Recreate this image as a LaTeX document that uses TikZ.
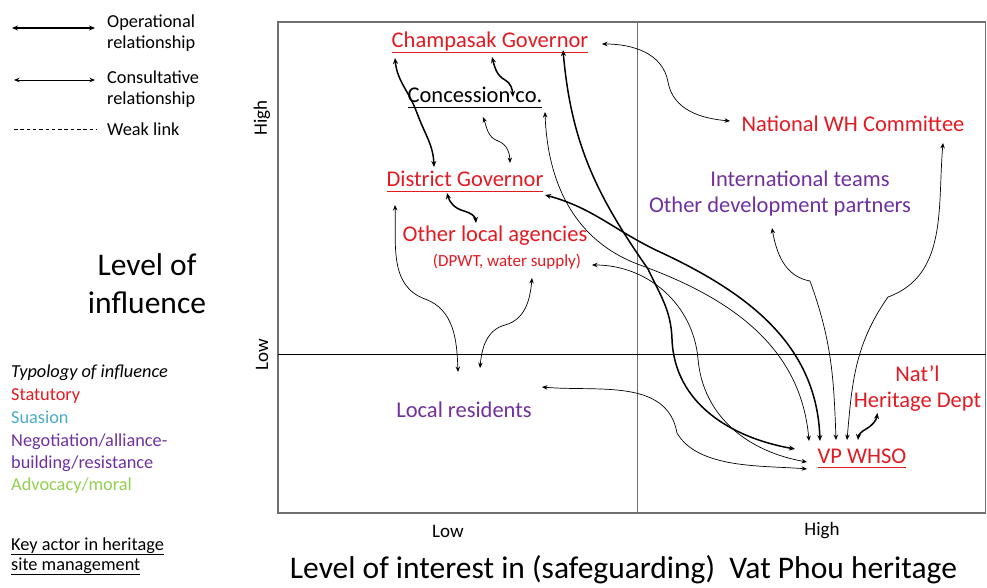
\documentclass[tikz,border=0pt]{standalone}
\usepackage{fontspec}
\setmainfont{Carlito}
\usetikzlibrary{arrows.meta, calc}
\definecolor{statred}{RGB}{226,26,34}
\definecolor{suasionblue}{RGB}{75,172,198}
\definecolor{negpurple}{RGB}{112,48,160}
\definecolor{advgreen}{RGB}{146,208,80}
\definecolor{framegray}{RGB}{110,110,110}
\newsavebox{\keylinebox}
\newcommand{\keyline}[1]{\sbox{\keylinebox}{#1}\rlap{\rule[-5.2pt]{\wd\keylinebox}{1.3pt}}\usebox{\keylinebox}}

\begin{document}
\begin{tikzpicture}[
        x=1pt, y=1pt,
        operational/.style={{Stealth[length=6pt, width=5pt]}-{Stealth[length=6pt, width=5pt]}, line width=1.5pt},
        consultative/.style={{Stealth[length=5.5pt, width=4.5pt]}-{Stealth[length=5.5pt, width=4.5pt]}, line width=0.7pt},
        weaklink/.style={line width=0.6pt, dash pattern=on 3.5pt off 2.8pt},
        actor/.style={inner sep=0pt, anchor=base, font=\fontsize{22.5}{26}\selectfont},
        statactor/.style={actor, text=statred},
        negactor/.style={actor, text=negpurple},
        legendtext/.style={inner sep=0pt, font=\fontsize{18.3}{20.5}\selectfont},
        axislabel/.style={inner sep=0pt, font=\fontsize{19}{22}\selectfont}
    ]
        \useasboundingbox (0,0) rectangle (987,587);
        % Frame
        \draw[framegray, line width=1.2pt] (278,74) rectangle (985.5,565);
        \draw[framegray, line width=0.8pt] (637,74) -- (637,565);
        \draw[line width=0.8pt] (278,233) -- (985.5,233);
        % Axis labels
        \node[axislabel, rotate=90] (yhigh) at (262,469) {High};
        \node[axislabel, rotate=90] (ylow) at (262,232.5) {Low};
        \node[axislabel] (xlow) at (448,56) {Low};
        \node[axislabel] (xhigh) at (822,56) {High};
        \node[inner sep=0pt, anchor=base, font=\fontsize{31.5}{36}\selectfont] (xtitle) at (623.5,9) {Level of interest in (safeguarding)\ \ Vat Phou heritage};
        \node[inner sep=0pt, align=center, font=\fontsize{31.5}{38}\selectfont] (ytitle) at (147,303) {Level of\\influence};
        % Legend
        \node[legendtext, align=left, anchor=west] (legop) at (107,554) {Operational\\relationship};
        \node[legendtext, align=left, anchor=west] (legcon) at (107,498) {Consultative\\relationship};
        \node[legendtext, anchor=west] (legweak) at (107,458) {Weak link};
        \draw[operational] ([xshift=-95pt, yshift=5pt]legop.west) -- ([xshift=-12pt, yshift=5pt]legop.west);
        \draw[consultative] ([xshift=-93pt, yshift=9pt]legcon.west) -- ([xshift=-12pt, yshift=9pt]legcon.west);
        \draw[weaklink] ([xshift=-93pt]legweak.west) -- ([xshift=-10pt]legweak.west);
        % Typology of influence
        \foreach \y/\col/\txt in {
            210/black/{\textit{Typology of influence}},
            187/statred/Statutory,
            164/suasionblue/Suasion,
            141/negpurple/{Negotiation/alliance-},
            119/negpurple/{building/resistance},
            97/advgreen/{Advocacy/moral}} {
            \node[legendtext, anchor=base west, text=\col] (typ\y) at (11,\y) {\txt};
        }
        \node[legendtext, anchor=base west] (keyact) at (11,37) {\keyline{Key actor in heritage}};
        \node[legendtext, anchor=base west] (keysite) at (11,17) {\keyline{site management}};
        % Actors
        \node[statactor] (champ) at (490,539) {\keyline{Champasak Governor}};
        \node[actor] (conc) at (475,484) {\keyline{Concession co.}};
        \node[statactor] (distgov) at (465,400) {\keyline{District Governor}};
        \node[statactor] (otherla) at (495,345) {Other local agencies};
        \node[statactor, font=\fontsize{17}{20}\selectfont] (dpwt) at (507,320) {(DPWT, water supply)};
        \node[statactor] (natwh) at (853,455) {National WH Committee};
        \node[negactor] (intl) at (800,400) {International teams};
        \node[negactor] (otherdev) at (780,374) {Other development partners};
        \node[negactor] (locres) at (464,170) {Local residents};
        \node[statactor, anchor=center, align=center] (natherit) at (917.5,199) {Nat’l\\Heritage Dept};
        \node[statactor] (vpwhso) at (862,124) {\keyline{VP WHSO}};
        % Operational relationships
        \draw[operational] ($(champ.base)+(-95,-10)$) to[out=-85, in=110] (417,474) to[out=-70, in=92] ($(distgov.base)+(-31,20)$);
        \draw[operational] ($(champ.base)+(2,-9)$) to[out=-75, in=150] (505,507) to[out=-30, in=95] ($(conc.base)+(38,6)$);
        \draw[operational] ($(distgov.base)+(-18,-6)$) to[out=-75, in=165] (464,376) to[out=-15, in=95] ($(otherla.base)+(-19,19)$);
        \draw[operational] ($(champ.base)+(73,-2)$) to[out=-85, in=125] (648,318) to[out=-65, in=92] (672,248) to[out=-88, in=170] ($(vpwhso.base)+(-67,14)$);
        \draw[operational] ($(distgov.base)+(80,-8)$) to[out=-15, in=155] (660,335) to[out=-25, in=92] ($(vpwhso.base)+(-42,22)$);
        \draw[operational] ($(natherit.center)+(-40,-25)$) to[out=-100, in=30] (866,158) to[out=210, in=85] ($(vpwhso.base)+(-4,23)$);
        % Consultative relationships
        \draw[consultative] ($(conc.base)+(8,-14)$) to[out=-70, in=160] (498,446) to[out=-20, in=92] ($(distgov.base)+(45,24)$);
        \draw[consultative] ($(distgov.base)+(-70,-18)$) to[out=-88, in=160] (425,288) to[out=-20, in=92] ($(locres.base)+(-6,45)$);
        \draw[consultative] ($(dpwt.base)+(25,-11)$) to[out=-95, in=15] (505,262) to[out=195, in=85] ($(locres.base)+(16,49)$);
        \draw[consultative] ($(champ.base)+(112,4)$) to[out=0, in=100] (668,505) to[out=-80, in=175] ($(natwh.base)+(-123,11)$);
        \draw[consultative] ($(conc.base)+(70,-9)$) to[out=-88, in=160] (640,322) to[out=-20, in=95] ($(vpwhso.base)+(-53,22)$);
        \draw[consultative] ($(dpwt.base)+(85,2)$) to[out=0, in=95] (698,228) to[out=-85, in=170] ($(vpwhso.base)+(-55,1)$);
        \draw[consultative] ($(locres.base)+(78,30)$) to[out=-5, in=100] (677,154) to[out=-60, in=175, looseness=0.8] ($(vpwhso.base)+(-55,-6)$);
        \draw[consultative] ($(otherdev.base)+(-8,-15)$) to[out=-80, in=170] (810,306) to[out=-70, in=92] ($(vpwhso.base)+(-26,23)$);
        \draw[consultative] ($(natwh.base)+(90,-11)$) to[out=-95, in=20] (888,290) to[out=235, in=85] ($(vpwhso.base)+(-15,23)$);
    \end{tikzpicture}
\end{document}
